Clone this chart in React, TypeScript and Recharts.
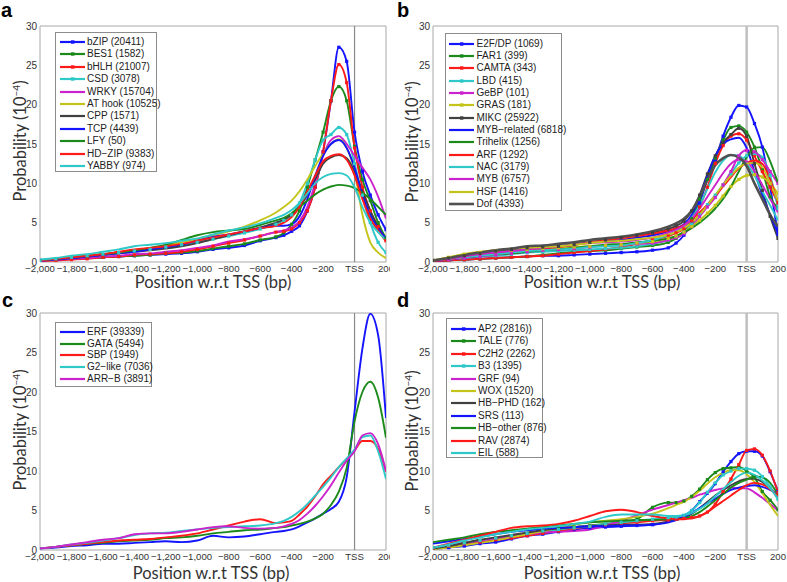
import React from 'react';
import { LineChart, Line, XAxis, YAxis, ReferenceLine, ReferenceArea } from 'recharts';

// positions (bp w.r.t TSS) at which the profiles are sampled
const X = [-2000, -1900, -1800, -1700, -1600, -1500, -1400, -1300, -1200, -1100, -1000, -900, -800, -700, -600,
  -500, -450, -400, -350, -300, -250, -200, -150, -100, -50, 0, 50, 100, 150, 200];
const X_TICKS = [-2000, -1800, -1600, -1400, -1200, -1000, -800, -600, -400, -200, 0, 200];
const X_MINOR = [-2000, -1900, -1800, -1700, -1600, -1500, -1400, -1300, -1200, -1100, -1000, -900, -800, -700,
  -600, -500, -400, -300, -200, -100, 0, 100, 200];
const Y_TICKS = [0, 5, 10, 15, 20, 25, 30];
const Y_MINOR = [0, 2.5, 5, 7.5, 10, 12.5, 15, 17.5, 20, 22.5, 25, 27.5, 30];

// panel a
const bZIP = [0.2, 0.3, 0.4, 0.5, 0.6, 0.7, 0.8, 0.9, 1.0, 1.1, 1.3, 1.6, 1.8, 2.1, 2.7, 3.1, 3.4, 3.9, 4.6, 6.5, 9.5, 14.0, 20.5, 27.3, 25.5, 16.5, 11.5, 8.5, 6.0, 4.1];
const BES1 = [0.2, 0.3, 0.4, 0.5, 0.6, 0.7, 0.8, 0.9, 1.1, 1.2, 1.4, 1.7, 2.0, 2.3, 2.8, 3.2, 3.7, 4.8, 6.5, 9.5, 13.0, 16.5, 20.5, 22.3, 20.5, 14.7, 10.5, 7.8, 5.0, 3.0];
const bHLH = [0.1, 0.2, 0.3, 0.4, 0.6, 0.7, 0.9, 1.0, 1.1, 1.3, 1.6, 2.0, 2.4, 2.8, 3.3, 3.8, 3.9, 4.2, 5.0, 6.5, 9.5, 14.0, 20.5, 25.1, 22.8, 14.5, 9.5, 6.5, 4.5, 2.7];
const CSD = [0.2, 0.4, 0.6, 0.8, 1.0, 1.2, 1.4, 1.6, 1.9, 2.2, 2.5, 2.9, 3.3, 3.7, 4.2, 4.8, 5.3, 6.0, 7.5, 10.0, 13.0, 15.5, 16.2, 17.1, 16.2, 12.5, 8.5, 5.0, 2.5, 1.2];
const WRKY = [0.2, 0.3, 0.4, 0.5, 0.7, 0.8, 1.0, 1.1, 1.3, 1.5, 1.8, 2.1, 2.6, 2.9, 3.3, 3.8, 4.0, 4.4, 5.2, 7.0, 10.0, 13.5, 15.5, 16.0, 15.0, 13.5, 12.0, 10.5, 8.3, 5.5];
const AT_hook = [0.2, 0.4, 0.6, 0.8, 1.0, 1.2, 1.5, 1.8, 2.1, 2.5, 2.9, 3.4, 3.9, 4.5, 5.3, 6.3, 7.0, 7.8, 9.0, 10.5, 12.2, 13.8, 15.0, 15.6, 14.5, 11.5, 6.0, 2.5, 1.2, 0.5];
const CPP = [0.2, 0.4, 0.5, 0.7, 0.9, 1.1, 1.3, 1.5, 1.7, 2.0, 2.4, 2.9, 3.4, 3.9, 4.4, 5.0, 5.4, 6.0, 7.0, 8.5, 10.5, 12.5, 13.3, 13.6, 13.2, 11.5, 9.0, 6.5, 4.5, 2.8];
const TCP = [0.2, 0.3, 0.5, 0.7, 0.9, 1.1, 1.3, 1.6, 1.9, 2.2, 2.7, 3.2, 3.5, 3.9, 4.3, 4.6, 4.6, 4.8, 5.8, 8.0, 11.0, 13.5, 15.0, 15.5, 14.5, 12.0, 8.5, 6.0, 4.3, 3.0];
const LFY = [0.2, 0.4, 0.6, 0.8, 1.0, 1.2, 1.5, 1.8, 2.2, 2.8, 3.4, 3.8, 4.0, 4.2, 4.7, 5.3, 5.6, 6.2, 7.0, 7.8, 8.6, 9.2, 9.6, 9.8, 9.7, 9.4, 8.8, 8.0, 7.0, 6.0];
const HD_ZIP = [0.2, 0.4, 0.6, 0.8, 1.0, 1.3, 1.6, 1.8, 2.0, 2.3, 2.7, 3.1, 3.5, 3.9, 4.3, 4.6, 5.0, 5.7, 7.0, 9.0, 11.0, 12.8, 13.5, 13.7, 13.0, 11.0, 8.0, 5.5, 4.0, 2.6];
const YABBY = [0.3, 0.5, 0.8, 1.0, 1.3, 1.6, 2.0, 2.2, 2.4, 2.7, 3.0, 3.5, 4.0, 4.4, 4.9, 5.6, 6.0, 6.6, 7.5, 8.7, 10.0, 10.8, 11.2, 11.3, 11.0, 9.5, 7.0, 5.0, 3.8, 2.8];

// panel b
const E2F_DP = [0.1, 0.2, 0.3, 0.4, 0.5, 0.6, 0.7, 0.8, 0.8, 0.9, 1.0, 1.1, 1.2, 1.3, 1.5, 1.8, 2.4, 3.4, 5.0, 7.5, 10.5, 13.0, 16.0, 18.4, 19.9, 19.7, 17.6, 14.6, 9.5, 3.5];
const FAR1 = [0.1, 0.2, 0.3, 0.4, 0.5, 0.6, 0.7, 0.9, 1.1, 1.3, 1.4, 1.5, 1.7, 1.9, 2.1, 2.5, 3.0, 3.8, 5.5, 8.0, 10.5, 13.2, 15.5, 17.1, 17.3, 16.5, 14.6, 11.7, 8.3, 6.8];
const CAMTA = [0.1, 0.2, 0.3, 0.4, 0.5, 0.6, 0.7, 0.8, 1.0, 1.2, 1.4, 1.6, 1.9, 2.3, 2.8, 3.3, 3.7, 4.2, 5.2, 7.0, 9.5, 12.5, 14.8, 16.0, 16.3, 15.5, 13.5, 11.5, 9.5, 7.5];
const LBD = [0.1, 0.3, 0.5, 0.7, 0.8, 1.0, 1.2, 1.3, 1.4, 1.5, 1.6, 1.7, 1.8, 2.0, 2.3, 2.8, 3.2, 3.8, 4.8, 6.0, 7.3, 8.5, 9.8, 11.2, 12.6, 13.5, 13.8, 13.3, 11.0, 6.8];
const GeBP = [0.1, 0.3, 0.5, 0.7, 0.9, 1.1, 1.3, 1.5, 1.6, 1.7, 1.9, 2.1, 2.2, 2.3, 2.4, 2.8, 3.1, 3.6, 4.5, 5.8, 7.0, 8.2, 9.8, 11.5, 13.5, 14.2, 14.0, 13.0, 11.5, 10.0];
const GRAS = [0.2, 0.6, 1.0, 1.2, 1.4, 1.5, 1.6, 1.7, 1.8, 1.9, 2.0, 2.1, 2.2, 2.4, 2.6, 3.0, 3.3, 3.8, 4.5, 5.3, 6.2, 7.2, 8.4, 9.6, 10.5, 11.0, 11.1, 10.8, 10.0, 8.7];
const MIKC = [0.2, 0.5, 0.8, 1.1, 1.4, 1.6, 1.8, 1.9, 2.0, 2.2, 2.5, 2.8, 3.1, 3.4, 3.7, 4.2, 4.6, 5.2, 6.5, 8.5, 11.2, 13.5, 15.2, 16.2, 17.0, 16.0, 12.5, 9.1, 5.8, 3.0];
const MYB_related = [0.1, 0.3, 0.6, 0.8, 1.1, 1.3, 1.6, 1.8, 2.0, 2.2, 2.5, 2.7, 2.8, 3.1, 3.4, 3.9, 4.3, 4.8, 6.0, 8.2, 11.0, 13.5, 15.0, 15.6, 15.8, 14.5, 11.5, 8.5, 6.0, 3.6];
const Trihelix = [0.2, 0.4, 0.6, 0.8, 1.0, 1.1, 1.3, 1.5, 1.6, 1.8, 2.0, 2.2, 2.3, 2.5, 2.7, 3.0, 3.3, 3.8, 4.3, 5.0, 5.8, 6.8, 8.0, 9.6, 11.5, 13.3, 14.5, 14.6, 12.8, 10.0];
const ARF = [0.1, 0.3, 0.6, 0.9, 1.1, 1.3, 1.5, 1.7, 1.9, 2.2, 2.5, 2.8, 3.0, 3.3, 3.6, 4.0, 4.3, 4.7, 5.4, 6.3, 7.3, 8.4, 9.6, 10.8, 11.9, 12.6, 12.9, 12.5, 10.5, 7.5];
const NAC = [0.2, 0.4, 0.6, 0.8, 1.0, 1.2, 1.4, 1.5, 1.6, 1.7, 1.9, 2.0, 2.1, 2.4, 2.8, 3.4, 3.9, 4.5, 5.6, 7.2, 9.3, 11.4, 12.9, 13.6, 13.5, 12.5, 11.0, 9.0, 7.2, 5.3];
const MYB = [0.2, 0.4, 0.7, 1.0, 1.2, 1.4, 1.6, 1.8, 2.0, 2.2, 2.4, 2.5, 2.6, 2.8, 3.1, 3.7, 4.1, 4.6, 5.5, 6.8, 8.3, 9.8, 11.3, 12.5, 13.0, 12.8, 11.5, 9.8, 8.0, 6.3];
const HSF = [0.2, 0.6, 1.0, 1.3, 1.5, 1.7, 1.8, 1.9, 2.0, 2.2, 2.4, 2.6, 2.7, 2.9, 3.1, 3.5, 3.8, 4.3, 5.0, 6.0, 7.2, 8.5, 9.8, 11.0, 12.0, 12.5, 12.6, 12.0, 10.0, 7.8];
const Dof = [0.2, 0.5, 0.9, 1.2, 1.5, 1.7, 2.0, 2.1, 2.3, 2.5, 2.8, 3.0, 3.2, 3.5, 3.9, 4.5, 4.9, 5.5, 6.5, 8.3, 10.5, 12.3, 13.2, 13.6, 13.3, 12.2, 10.0, 8.0, 6.0, 4.5];

// panel c
const ERF = [0.2, 0.3, 0.5, 0.6, 0.8, 0.8, 0.9, 1.0, 1.1, 1.0, 1.2, 1.8, 1.6, 1.7, 2.0, 2.3, 2.4, 2.6, 3.0, 3.5, 4.0, 4.6, 5.2, 6.1, 9.2, 17.5, 25.5, 29.9, 27.2, 16.7];
const GATA = [0.2, 0.4, 0.6, 0.8, 0.9, 1.1, 1.2, 1.3, 1.5, 1.6, 1.8, 2.1, 2.3, 2.5, 2.6, 2.8, 2.9, 3.1, 3.3, 3.6, 4.0, 4.6, 5.7, 7.4, 10.4, 16.3, 20.0, 21.3, 19.3, 14.2];
const SBP = [0.2, 0.4, 0.6, 0.8, 1.0, 1.2, 1.3, 1.4, 1.6, 1.8, 2.1, 2.6, 3.1, 3.6, 3.9, 3.4, 3.5, 3.7, 4.5, 5.5, 6.8, 8.3, 9.4, 10.5, 11.5, 12.6, 13.8, 13.8, 12.8, 9.9];
const G2_like = [0.2, 0.4, 0.7, 0.9, 1.2, 1.5, 1.9, 2.1, 2.2, 2.4, 2.6, 2.8, 2.9, 3.0, 3.1, 3.4, 3.7, 4.2, 4.9, 5.8, 6.9, 8.0, 9.2, 10.5, 11.6, 12.7, 14.3, 14.5, 12.5, 9.0];
const ARR_B = [0.2, 0.4, 0.7, 1.0, 1.3, 1.5, 2.0, 2.1, 2.1, 2.3, 2.6, 2.9, 3.0, 2.8, 2.7, 2.8, 3.0, 3.3, 3.8, 4.6, 5.6, 6.8, 8.2, 9.8, 11.3, 12.5, 14.5, 14.8, 13.4, 10.0];

// panel d
const AP2 = [0.1, 0.3, 0.5, 0.8, 1.0, 1.4, 1.8, 2.0, 2.3, 2.6, 2.8, 2.9, 3.0, 3.1, 3.2, 3.6, 3.9, 4.3, 5.0, 6.1, 7.2, 8.4, 9.9, 11.2, 12.2, 12.5, 12.5, 11.9, 9.9, 7.4];
const TALE = [0.2, 0.5, 0.9, 1.2, 1.5, 1.8, 2.1, 2.4, 2.7, 2.9, 3.1, 3.3, 3.5, 3.9, 5.4, 6.0, 6.0, 6.2, 6.8, 7.7, 8.9, 9.8, 10.3, 10.4, 10.5, 10.0, 9.2, 7.4, 6.3, 5.1];
const C2H2 = [0.2, 0.5, 0.8, 1.0, 1.3, 1.5, 1.8, 2.1, 2.4, 2.7, 3.0, 3.2, 3.4, 3.5, 3.7, 3.8, 3.9, 4.0, 4.1, 4.3, 4.8, 5.8, 7.4, 9.0, 10.8, 12.6, 12.8, 12.0, 10.0, 7.3];
const B3 = [0.3, 0.6, 0.9, 1.2, 1.5, 1.8, 2.1, 2.4, 2.6, 2.8, 3.0, 3.3, 3.5, 3.7, 3.9, 4.1, 4.2, 4.4, 5.0, 6.0, 7.3, 8.5, 9.5, 10.0, 10.3, 10.3, 10.1, 9.3, 8.0, 6.4];
const GRF = [0.3, 0.6, 0.9, 1.2, 1.5, 1.8, 2.0, 2.2, 2.3, 2.4, 2.6, 3.1, 3.7, 4.4, 5.1, 5.7, 6.0, 6.3, 6.6, 7.0, 7.3, 7.6, 7.8, 7.9, 7.8, 7.8, 7.3, 6.6, 5.8, 5.0];
const WOX = [0.1, 0.3, 0.6, 0.9, 1.2, 1.6, 2.0, 2.4, 2.8, 3.2, 3.5, 3.7, 3.9, 4.2, 4.6, 5.3, 5.7, 6.1, 6.7, 7.5, 8.4, 9.2, 9.8, 10.1, 10.1, 9.6, 8.6, 7.2, 5.7, 4.3];
const HB_PHD = [0.2, 0.5, 0.9, 1.3, 1.6, 1.9, 2.2, 2.5, 2.7, 2.9, 3.0, 3.1, 3.2, 3.2, 3.3, 3.6, 3.8, 4.1, 4.6, 5.3, 6.1, 6.9, 7.6, 8.2, 8.7, 9.0, 9.0, 8.6, 7.8, 6.6];
const SRS = [0.8, 1.1, 1.4, 1.7, 2.0, 2.3, 2.5, 2.7, 2.8, 2.9, 3.0, 3.0, 3.1, 3.1, 3.2, 3.5, 3.8, 4.2, 4.7, 5.3, 5.9, 6.5, 7.1, 7.6, 7.9, 8.1, 8.2, 8.0, 7.6, 7.0];
const HB_other = [1.0, 1.3, 1.6, 2.0, 2.3, 2.5, 2.7, 2.9, 3.1, 3.3, 3.5, 3.6, 3.7, 3.8, 3.8, 3.9, 3.9, 4.0, 4.3, 4.8, 5.5, 6.3, 7.1, 7.9, 8.5, 8.9, 9.3, 9.2, 8.5, 7.0];
const RAV = [0.3, 0.8, 1.3, 1.8, 2.3, 2.8, 3.0, 3.1, 3.3, 3.7, 4.3, 4.9, 5.1, 4.8, 4.3, 4.0, 3.9, 3.9, 4.0, 4.3, 4.8, 5.5, 6.2, 6.9, 7.6, 8.2, 8.5, 8.3, 7.7, 6.8];
const EIL = [0.3, 0.7, 1.2, 1.6, 2.0, 2.3, 2.6, 2.8, 3.0, 3.3, 3.6, 4.2, 4.5, 4.5, 4.5, 4.3, 4.3, 4.4, 4.7, 5.2, 5.9, 6.8, 7.7, 8.6, 9.4, 9.8, 9.5, 8.8, 7.8, 6.5];

const BLUE = '#1414ff';
const GREEN = '#1b8a1b';
const RED = '#ff1a1a';
const CYAN = '#2ec8c8';
const MAGENTA = '#cc22cc';
const YELLOW = '#c4c41a';
const GRAY = '#404040';

interface Series {
  key: string;
  label: string;
  values: number[];
  color: string;
  marker?: boolean;
  width?: number;
}

const seriesA: Series[] = [
  { key: 'bZIP', label: 'bZIP (20411)', values: bZIP, color: BLUE, marker: true },
  { key: 'BES1', label: 'BES1 (1582)', values: BES1, color: GREEN, marker: true },
  { key: 'bHLH', label: 'bHLH (21007)', values: bHLH, color: RED, marker: true },
  { key: 'CSD', label: 'CSD (3078)', values: CSD, color: CYAN, marker: true },
  { key: 'WRKY', label: 'WRKY (15704)', values: WRKY, color: MAGENTA },
  { key: 'AThook', label: 'AT hook (10525)', values: AT_hook, color: YELLOW },
  { key: 'CPP', label: 'CPP (1571)', values: CPP, color: GRAY },
  { key: 'TCP', label: 'TCP (4439)', values: TCP, color: BLUE },
  { key: 'LFY', label: 'LFY (50)', values: LFY, color: GREEN },
  { key: 'HDZIP', label: 'HD\u2212ZIP (9383)', values: HD_ZIP, color: RED },
  { key: 'YABBY', label: 'YABBY (974)', values: YABBY, color: CYAN },
];

const seriesB: Series[] = [
  { key: 'E2F', label: 'E2F/DP (1069)', values: E2F_DP, color: BLUE, marker: true },
  { key: 'FAR1', label: 'FAR1 (399)', values: FAR1, color: GREEN, marker: true },
  { key: 'CAMTA', label: 'CAMTA (343)', values: CAMTA, color: RED, marker: true },
  { key: 'LBD', label: 'LBD (415)', values: LBD, color: CYAN, marker: true },
  { key: 'GeBP', label: 'GeBP (101)', values: GeBP, color: MAGENTA, marker: true },
  { key: 'GRAS', label: 'GRAS (181)', values: GRAS, color: YELLOW, marker: true },
  { key: 'MIKC', label: 'MIKC (25922)', values: MIKC, color: GRAY, marker: true },
  { key: 'MYBrel', label: 'MYB\u2212related (6818)', values: MYB_related, color: BLUE },
  { key: 'Trihelix', label: 'Trihelix (1256)', values: Trihelix, color: GREEN },
  { key: 'ARF', label: 'ARF (1292)', values: ARF, color: RED },
  { key: 'NAC', label: 'NAC (3179)', values: NAC, color: CYAN },
  { key: 'MYB', label: 'MYB (6757)', values: MYB, color: MAGENTA },
  { key: 'HSF', label: 'HSF (1416)', values: HSF, color: YELLOW },
  { key: 'Dof', label: 'Dof (4393)', values: Dof, color: '#505050', width: 2.6 },
];

const seriesC: Series[] = [
  { key: 'ERF', label: 'ERF (39339)', values: ERF, color: BLUE },
  { key: 'GATA', label: 'GATA (5494)', values: GATA, color: GREEN },
  { key: 'SBP', label: 'SBP (1949)', values: SBP, color: RED },
  { key: 'G2', label: 'G2\u2212like (7036)', values: G2_like, color: CYAN },
  { key: 'ARRB', label: 'ARR\u2212B (3891)', values: ARR_B, color: MAGENTA },
];

const seriesD: Series[] = [
  { key: 'AP2', label: 'AP2 (2816))', values: AP2, color: BLUE, marker: true },
  { key: 'TALE', label: 'TALE (776)', values: TALE, color: GREEN, marker: true },
  { key: 'C2H2', label: 'C2H2 (2262)', values: C2H2, color: RED, marker: true },
  { key: 'B3', label: 'B3 (1395)', values: B3, color: CYAN, marker: true },
  { key: 'GRF', label: 'GRF (94)', values: GRF, color: MAGENTA },
  { key: 'WOX', label: 'WOX (1520)', values: WOX, color: YELLOW },
  { key: 'HBPHD', label: 'HB\u2212PHD (162)', values: HB_PHD, color: GRAY },
  { key: 'SRS', label: 'SRS (113)', values: SRS, color: BLUE },
  { key: 'HBother', label: 'HB\u2212other (876)', values: HB_other, color: GREEN },
  { key: 'RAV', label: 'RAV (2874)', values: RAV, color: RED },
  { key: 'EIL', label: 'EIL (588)', values: EIL, color: CYAN },
];

const buildRows = (series: Series[]) =>
  X.map((x, i) => {
    const row: Record<string, number> = { x };
    series.forEach((s) => {
      row[s.key] = s.values[i];
    });
    return row;
  });

const formatX = (v: number) => {
  if (v === 0) return 'TSS';
  const s = Math.abs(v).toString().replace(/\B(?=(\d{3})+(?!\d))/g, ',');
  return v < 0 ? `\u2212${s}` : s;
};

const TICK_FONT = '"Liberation Sans", Arial, sans-serif';
const TITLE_FONT = 'Lato, "Open Sans", sans-serif';

interface Layout {
  left: number;
  top: number;
  width: number;
  height: number;
  yAxisWidth: number;
  marginTop: number;
  marginRight: number;
  xAxisHeight: number;
  tssColor: string;
  tssWidth: number;
  legend: { left: number; top: number; width: number; height: number; padTop: number; rowH: number };
  letter: { x: number; y: number; text: string };
  yLabel: { x: number; y: number };
  xLabel: { x: number; y: number };
}

const layoutA: Layout = {
  left: 0, top: 0, width: 390, height: 290, yAxisWidth: 40, marginTop: 26, marginRight: 4, xAxisHeight: 28,
  tssColor: '#8a8a8a', tssWidth: 1.2,
  legend: { left: 55, top: 32, width: 102, height: 140, padTop: 2.8, rowH: 12.4 },
  letter: { x: 1, y: 0, text: 'a' }, yLabel: { x: 20, y: 141 }, xLabel: { x: 213, y: 282 },
};
const layoutB: Layout = {
  left: 395, top: 0, width: 392, height: 290, yAxisWidth: 38, marginTop: 26, marginRight: 9, xAxisHeight: 28,
  tssColor: '#bdbdbd', tssWidth: 2.4,
  legend: { left: 444.5, top: 33, width: 117.5, height: 178, padTop: 3.5, rowH: 12.35 },
  letter: { x: 397, y: 0, text: 'b' }, yLabel: { x: 412, y: 142 }, xLabel: { x: 602, y: 282 },
};
const layoutC: Layout = {
  left: 0, top: 290, width: 390, height: 292, yAxisWidth: 40, marginTop: 23, marginRight: 4, xAxisHeight: 32,
  tssColor: '#8a8a8a', tssWidth: 1.2,
  legend: { left: 55, top: 322, width: 97, height: 65, padTop: 2.7, rowH: 11.9 },
  letter: { x: 2, y: 290, text: 'c' }, yLabel: { x: 20, y: 430 }, xLabel: { x: 211, y: 573 },
};
const layoutD: Layout = {
  left: 395, top: 290, width: 392, height: 292, yAxisWidth: 38, marginTop: 23, marginRight: 9, xAxisHeight: 32,
  tssColor: '#bdbdbd', tssWidth: 2.4,
  legend: { left: 446, top: 318, width: 97, height: 140, padTop: 3.8, rowH: 12.4 },
  letter: { x: 397, y: 290, text: 'd' }, yLabel: { x: 412, y: 431 }, xLabel: { x: 602, y: 573 },
};

const squareDot = (color: string) => (p: any) => {
  if (p.cx == null || p.cy == null) return <g key={`e${p.index}`} />;
  return <rect key={`d${p.index}`} x={p.cx - 1.6} y={p.cy - 1.6} width={3.2} height={3.2} fill={color} />;
};

const LegendBox: React.FC<{ series: Series[]; layout: Layout }> = ({ series, layout }) => {
  const { legend } = layout;
  return (
    <div
      style={{
        position: 'absolute', left: legend.left, top: legend.top, width: legend.width, height: legend.height,
        boxSizing: 'border-box', border: '1px solid #8c8c8c', background: '#fff', paddingTop: legend.padTop,
      }}
    >
      {series.map((s) => (
        <div key={s.key} style={{ height: legend.rowH, display: 'flex', alignItems: 'center' }}>
          <svg width={25} height={8} style={{ marginLeft: 3.5, flex: 'none' }}>
            <line x1={0} y1={4} x2={25} y2={4} stroke={s.color} strokeWidth={s.width ?? 2.2} />
            {s.marker && <rect x={11} y={2.3} width={3.4} height={3.4} fill={s.color} />}
          </svg>
          <span
            style={{ marginLeft: 2.5, fontFamily: TICK_FONT, fontSize: 10, color: '#222', whiteSpace: 'nowrap', lineHeight: '10px' }}
          >
            {s.label}
          </span>
        </div>
      ))}
    </div>
  );
};

const Panel: React.FC<{ series: Series[]; layout: Layout }> = ({ series, layout }) => {
  const rows = buildRows(series);
  return (
    <>
      <div style={{ position: 'absolute', left: layout.left, top: layout.top, width: layout.width, height: layout.height, overflow: 'hidden' }}>
        <LineChart
          width={layout.width}
          height={layout.height}
          data={rows}
          margin={{ top: layout.marginTop, right: layout.marginRight, bottom: 0, left: 0 }}
        >
          <XAxis
            dataKey="x"
            type="number"
            domain={[-2000, 200]}
            ticks={X_TICKS}
            interval={0}
            tickFormatter={formatX}
            height={layout.xAxisHeight}
            axisLine={false}
            tickLine={false}
            tickSize={2}
            tickMargin={1}
            allowDataOverflow
            tick={{ fontSize: 9.6, fill: '#333', fontFamily: TICK_FONT }}
          />
          <XAxis xAxisId="top" type="number" orientation="top" mirror domain={[-2000, 200]} ticks={X_MINOR}
            interval={0} tick={false} axisLine={false} tickLine={{ stroke: '#9a9a9a' }} tickSize={3} height={0} allowDataOverflow />
          <XAxis xAxisId="bot" type="number" orientation="bottom" mirror domain={[-2000, 200]} ticks={X_MINOR}
            interval={0} tick={false} axisLine={false} tickLine={{ stroke: '#9a9a9a' }} tickSize={3} height={0} allowDataOverflow />
          <YAxis
            type="number"
            domain={[0, 30]}
            ticks={Y_TICKS}
            interval={0}
            width={layout.yAxisWidth}
            axisLine={false}
            tickLine={false}
            tickSize={1}
            tickMargin={2}
            allowDataOverflow
            tick={{ fontSize: 10, fill: '#333', fontFamily: TICK_FONT }}
          />
          <YAxis yAxisId="lm" type="number" orientation="left" mirror domain={[0, 30]} ticks={Y_MINOR} interval={0}
            tick={false} axisLine={false} tickLine={{ stroke: '#9a9a9a' }} tickSize={3} width={0} allowDataOverflow />
          <YAxis yAxisId="rm" type="number" orientation="right" mirror domain={[0, 30]} ticks={Y_MINOR} interval={0}
            tick={false} axisLine={false} tickLine={{ stroke: '#9a9a9a' }} tickSize={3} width={0} allowDataOverflow />
          <ReferenceArea x1={-2000} x2={200} y1={0} y2={30} fill="none" stroke="#a8a8a8" strokeWidth={1} />
          <ReferenceLine x={0} stroke={layout.tssColor} strokeWidth={layout.tssWidth} />
          {series.map((s) => (
            <Line
              key={s.key}
              type="monotone"
              dataKey={s.key}
              stroke={s.color}
              strokeWidth={s.width ?? 1.9}
              dot={s.marker ? squareDot(s.color) : false}
              activeDot={false}
              isAnimationActive={false}
            />
          ))}
        </LineChart>
      </div>
      <LegendBox series={series} layout={layout} />
      <div
        style={{
          position: 'absolute', left: layout.letter.x, top: layout.letter.y, fontFamily: TICK_FONT,
          fontWeight: 'bold', fontSize: 20, lineHeight: '20px', color: '#000',
        }}
      >
        {layout.letter.text}
      </div>
      <div
        style={{
          position: 'absolute', left: layout.yLabel.x, top: layout.yLabel.y, transform: 'translate(-50%, -50%) rotate(-90deg)',
          fontFamily: TITLE_FONT, fontSize: 16.5, color: '#333', whiteSpace: 'nowrap', lineHeight: '15px',
        }}
      >
        Probability (10<sup style={{ fontSize: 10, verticalAlign: 6, lineHeight: 0 }}>{'\u22124'}</sup>)
      </div>
      <div
        style={{
          position: 'absolute', left: layout.xLabel.x, top: layout.xLabel.y, transform: 'translate(-50%, -50%)',
          fontFamily: TITLE_FONT, fontSize: 16.5, color: '#333', whiteSpace: 'nowrap', lineHeight: '14px',
        }}
      >
        Position w.r.t TSS (bp)
      </div>
    </>
  );
};

export default function App() {
  return (
    <div style={{ position: 'absolute', left: 0, top: 0, width: 787, height: 582, background: '#fff', overflow: 'hidden' }}>
      <Panel series={seriesA} layout={layoutA} />
      <Panel series={seriesB} layout={layoutB} />
      <Panel series={seriesC} layout={layoutC} />
      <Panel series={seriesD} layout={layoutD} />
    </div>
  );
}
